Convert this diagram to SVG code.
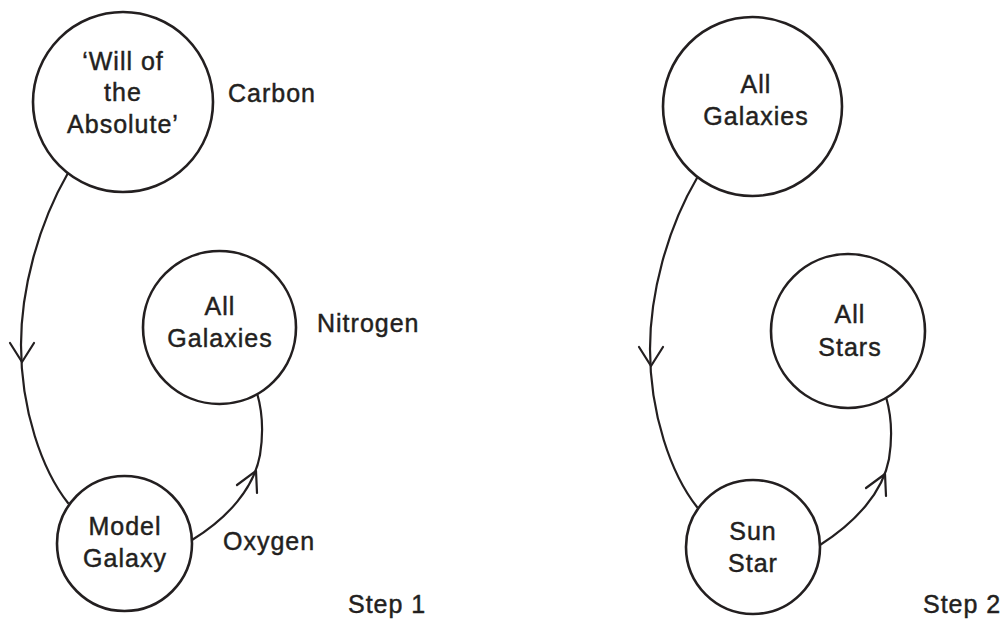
<svg xmlns="http://www.w3.org/2000/svg" width="1003" height="619" viewBox="0 0 1003 619">
  <style>
    .node { fill: #ffffff; stroke: #231f20; stroke-width: 2.6; }
    .lbl { font-family: "Liberation Sans", Arial, Helvetica, sans-serif; font-size: 25px; fill: #231f20; stroke: #231f20; stroke-width: 0.45; letter-spacing: 1px; }
    .mid { text-anchor: middle; }
    .edge { fill: none; stroke: #231f20; stroke-width: 2.2; stroke-linecap: round; stroke-linejoin: round; }
  </style>
  <rect width="1003" height="619" fill="#ffffff"/>

  <!-- Connectors -->
  <g id="connectors">
    <!-- Step 1 -->
    <path class="edge" d="M68,173 C38,225 21,290 21,345 C21,410 42,470 68,503"/>
    <path class="edge" d="M10,343 L22,362 L34,343"/>
    <path class="edge" d="M192,540 C228,518 254,488 260,455 C264,430 262,410 257,393"/>
    <path class="edge" d="M237,485 L256,471 L257,493"/>
    <!-- Step 2 -->
    <path class="edge" d="M697,178 C667,229 650,294 650,349 C650,414 671,474 697,507"/>
    <path class="edge" d="M639,347 L651,366 L663,347"/>
    <path class="edge" d="M820,545 C856,522 883,492 889,459 C893,434 891,414 886,397"/>
    <path class="edge" d="M866,488 L885,474 L886,496"/>
  </g>

  <!-- Step 1 nodes -->
  <g id="will-of-the-absolute">
    <circle class="node" cx="123" cy="102" r="90"/>
    <text class="lbl mid" x="123" y="70">‘Will of</text>
    <text class="lbl mid" x="123" y="101">the</text>
    <text class="lbl mid" x="123" y="133">Absolute’</text>
  </g>
  <g id="all-galaxies-1">
    <circle class="node" cx="219.5" cy="327.5" r="76.5"/>
    <text class="lbl mid" x="220" y="315">All</text>
    <text class="lbl mid" x="220" y="347">Galaxies</text>
  </g>
  <g id="model-galaxy">
    <circle class="node" cx="124.5" cy="543.5" r="67.5"/>
    <text class="lbl mid" x="125" y="535">Model</text>
    <text class="lbl mid" x="125" y="567">Galaxy</text>
  </g>
  <g id="labels-step1">
    <text class="lbl" x="228" y="102">Carbon</text>
    <text class="lbl" x="317" y="332">Nitrogen</text>
    <text class="lbl" x="223" y="550">Oxygen</text>
    <text class="lbl" x="348" y="613">Step 1</text>
  </g>

  <!-- Step 2 nodes -->
  <g id="all-galaxies-2">
    <circle class="node" cx="752.5" cy="106.5" r="89.5"/>
    <text class="lbl mid" x="756" y="93">All</text>
    <text class="lbl mid" x="756" y="125">Galaxies</text>
  </g>
  <g id="all-stars">
    <circle class="node" cx="848" cy="331" r="77"/>
    <text class="lbl mid" x="850" y="323">All</text>
    <text class="lbl mid" x="850" y="356">Stars</text>
  </g>
  <g id="sun-star">
    <circle class="node" cx="753" cy="547" r="67"/>
    <text class="lbl mid" x="753" y="540">Sun</text>
    <text class="lbl mid" x="753" y="572">Star</text>
  </g>
  <g id="labels-step2">
    <text class="lbl" x="923" y="613">Step 2</text>
  </g>
</svg>
